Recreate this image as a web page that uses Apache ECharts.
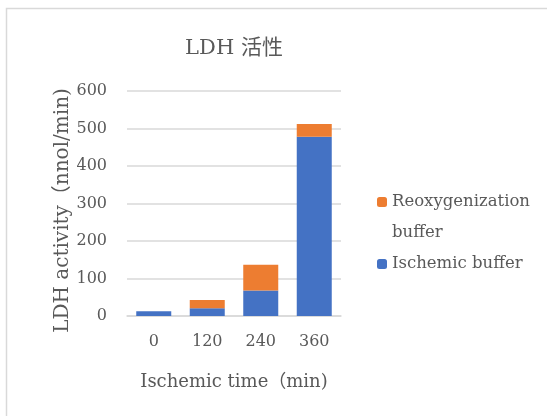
<!DOCTYPE html>
<html>
<head>
<meta charset="utf-8">
<script src="https://cdn.jsdelivr.net/npm/echarts@6/dist/echarts.min.js"></script>
<style>
  html, body { margin: 0; padding: 0; background: #fff; }
  #chart { width: 547px; height: 416px; }
</style>
</head>
<body>
<div id="chart"></div>
<script>
// Ischemic time points (min)
const categories = ['0', '120', '240', '360'];
// LDH activity released in each buffer (nnol/min), stacked
const ischemicBuffer = [13, 21, 68, 478];
const reoxygenizationBuffer = [0, 22, 69, 34];
const yTicks = { min: 0, max: 600, interval: 100 };

const FONT = "'DejaVu Serif', 'Noto Sans CJK JP', serif";
const TEXT = '#595959';
const LEGEND_SIZE = 16.5;

const chart = echarts.init(document.getElementById('chart'));
chart.setOption({
  animation: false,
  backgroundColor: '#fff',
  graphic: [
    {
      // outer chart frame
      type: 'rect',
      shape: { x: 6.5, y: 8.5, width: 560, height: 420 },
      style: { fill: 'none', stroke: '#d9d9d9', lineWidth: 1.5 },
      silent: true
    },
    {
      // wrapped second line of the first legend entry
      type: 'text',
      left: 392, top: 224,
      style: { text: 'buffer', font: LEGEND_SIZE + 'px ' + FONT, fill: TEXT },
      silent: true
    }
  ],
  title: {
    text: 'LDH 活性',
    left: 229, top: 33, textAlign: 'center',
    textStyle: { fontFamily: FONT, fontSize: 21, fontWeight: 'normal', color: TEXT }
  },
  grid: { left: 127, right: 206, top: 91, bottom: 100, containLabel: false },
  legend: {
    orient: 'vertical',
    left: 372, top: 182,
    itemWidth: 10, itemHeight: 10, itemGap: 32,
    data: ['Reoxygenization buffer', 'Ischemic buffer'],
    formatter: function (name) {
      return name === 'Reoxygenization buffer' ? 'Reoxygenization' : name;
    },
    textStyle: {
      fontFamily: FONT, fontSize: LEGEND_SIZE, color: TEXT, lineHeight: 30
    }
  },
  xAxis: {
    type: 'category',
    data: categories,
    name: 'Ischemic time（min)',
    nameLocation: 'middle', nameGap: 57,
    nameTextStyle: { fontFamily: FONT, fontSize: 18, color: TEXT },
    axisLine: { show: true, lineStyle: { color: '#d9d9d9', width: 1.5 } },
    axisTick: { show: false },
    axisLabel: { fontFamily: FONT, fontSize: 16, color: TEXT, margin: 18 }
  },
  yAxis: {
    type: 'value',
    min: yTicks.min, max: yTicks.max, interval: yTicks.interval,
    name: 'LDH activity（nnol/min)',
    nameLocation: 'middle', nameGap: 49,
    nameTextStyle: { fontFamily: FONT, fontSize: 20, color: TEXT, padding: [0, 14, 0, 0] },
    axisLine: { show: false },
    axisTick: { show: false },
    axisLabel: { fontFamily: FONT, fontSize: 16, color: TEXT, margin: 20 },
    splitLine: { lineStyle: { color: '#d9d9d9', width: 1.5 } }
  },
  series: [
    {
      name: 'Ischemic buffer', type: 'bar', stack: 'ldh',
      data: ischemicBuffer, barWidth: 35,
      itemStyle: { color: '#4472c4' }
    },
    {
      name: 'Reoxygenization buffer', type: 'bar', stack: 'ldh',
      data: reoxygenizationBuffer, barWidth: 35,
      itemStyle: { color: '#ed7d31' }
    }
  ]
});
</script>
</body>
</html>
